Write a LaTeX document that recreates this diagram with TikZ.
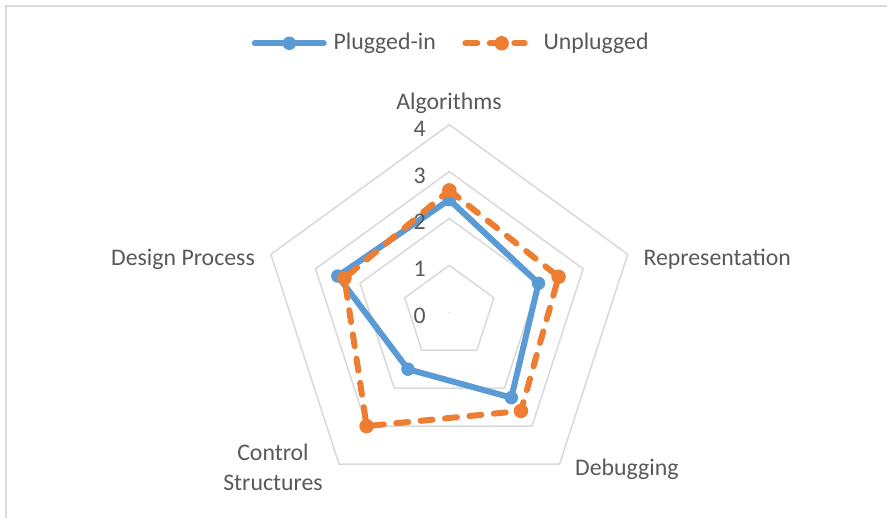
\documentclass[tikz,border=0pt]{standalone}
\usepackage{fontspec}
\setmainfont{Carlito}
\definecolor{plugblue}{HTML}{5B9BD5}
\definecolor{unplugorange}{HTML}{ED7D31}
\definecolor{gridgray}{HTML}{D9D9D9}
\definecolor{labelgray}{HTML}{595959}
\begin{document}
\begin{tikzpicture}[x=1pt,y=1pt,
  lbl/.style={text=labelgray, font=\fontsize{23.8pt}{30pt}\selectfont, inner sep=0pt},
  gridline/.style={draw=gridgray, line width=1.5pt},
  plugline/.style={draw=plugblue, line width=6pt, line join=round, line cap=round},
  unplugline/.style={draw=unplugorange, line width=6pt, line join=round, line cap=round, dash pattern=on 12pt off 12.5pt},
  plugdot/.style={circle, fill=plugblue, inner sep=0pt, minimum size=13.5pt},
  unplugdot/.style={circle, fill=unplugorange, inner sep=0pt, minimum size=14.5pt},
]
\useasboundingbox (0,0) rectangle (887,518);
\fill[white] (0,0) rectangle (887,518);
% chart frame: top and left edges
\draw[gridgray, line width=2pt] (6,0) -- (6,512) -- (887,512);

\def\u{46.9}
\begin{scope}[shift={(449.3,205.7)}]
  % value grid: pentagons at 1, 2, 3, 4
  \foreach \k in {1,...,4}
    \draw[gridline, line join=miter]
      (90:{\k*\u}) -- (18:{\k*\u}) -- (-54:{\k*\u}) -- (-126:{\k*\u}) -- (162:{\k*\u}) -- cycle;
  \fill[gridgray] (0,0) circle (0.8pt);

  % Plugged-in series
  \coordinate (pA) at (90:{2.4*\u});
  \coordinate (pR) at (18:{2.0*\u});
  \coordinate (pD) at (-54:{2.25*\u});
  \coordinate (pC) at (-126:{1.5*\u});
  \coordinate (pP) at (162:{2.5*\u});
  % Unplugged series
  \coordinate (uA) at (90:{2.6*\u});
  \coordinate (uR) at (18:{2.45*\u});
  \coordinate (uD) at (-54:{2.6*\u});
  \coordinate (uC) at (-126:{3.0*\u});
  \coordinate (uP) at (162:{2.35*\u});

  \draw[plugline] (pA) -- (pR) -- (pD) -- (pC) -- (pP) -- cycle;
  \foreach \p in {pA,pR,pD,pC,pP} \node[plugdot] (m\p) at (\p) {};
  \draw[unplugline] (uA) -- (uR) -- (uD) -- (uC) -- (uP) -- cycle;
  \foreach \p in {uA,uR,uD,uC,uP} \node[unplugdot] (m\p) at (\p) {};
\end{scope}

% axis value labels
\node[lbl, anchor=base east] (t0) at (426,194.2) {0};
\node[lbl, anchor=base east] (t1) at (426,241.1) {1};
\node[lbl, anchor=base east] (t2) at (426,288.0) {2};
\node[lbl, anchor=base east] (t3) at (426,334.9) {3};
\node[lbl, anchor=base east] (t4) at (426,381.8) {4};

% category labels
\node[lbl, anchor=base] (alg) at (449,408) {Algorithms};
\node[lbl, anchor=base west] (rep) at (643.3,252) {Representation};
\node[lbl, anchor=base east] (des) at (255,252) {Design Process};
\node[lbl, anchor=base west] (deb) at (575,42) {Debugging};
\node[lbl, anchor=south, align=center] (ctl) at (273,27.3) {Control\\Structures};

% legend
\coordinate (lb1) at (254.7,474.7);
\coordinate (lb2) at (323.7,474.7);
\draw[plugline] (lb1) -- (lb2);
\node[plugdot] (lbm) at (289.3,474.7) {};
\node[lbl, anchor=base west] (lbt) at (333.3,468.7) {Plugged-in};
\coordinate (lo1) at (465.3,474.7);
\coordinate (lo2) at (524.7,474.7);
\draw[unplugline] (lo1) -- (lo2);
\node[unplugdot] (lom) at (501.7,474.7) {};
\node[lbl, anchor=base west] (lot) at (543.3,468.7) {Unplugged};
\end{tikzpicture}
\end{document}
